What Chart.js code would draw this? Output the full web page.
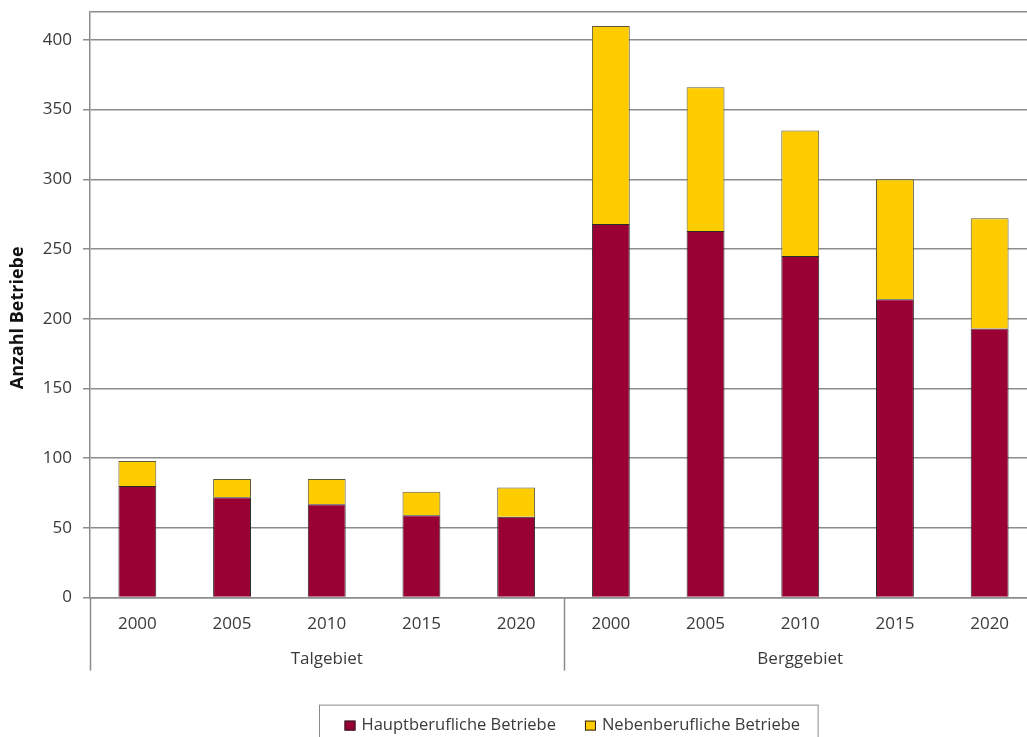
<!DOCTYPE html>
<html>
<head>
<meta charset="utf-8">
<title>Anzahl Betriebe</title>
<script src="https://cdn.jsdelivr.net/npm/chart.js@4.4.1/dist/chart.umd.min.js"></script>
<style>
  html, body { margin: 0; padding: 0; overflow: hidden; background: #fff; }
  #wrap { width: 1040px; height: 737px; position: relative; }
</style>
</head>
<body>
<div id="wrap"><canvas id="betriebe"></canvas></div>
<script>
// Betriebe nach Zone und Jahr
var regions = ['Talgebiet', 'Berggebiet'];
var years = ['2000', '2005', '2010', '2015', '2020'];
var hauptberuflich = [80, 72, 67, 59, 58, 268, 263, 245, 214, 193];
var nebenberuflich = [18, 13, 18, 17, 21, 142, 103, 90, 86, 79];
var yTicks = [0, 50, 100, 150, 200, 250, 300, 350, 400];
var yTitle = 'Anzahl Betriebe';

var FONT = '"Open Sans", "Noto Sans", sans-serif';
var GRID = '#8c8c8c';
var TEXT = '#3a3a3a';

var labels = [];
regions.forEach(function () {
  years.forEach(function (y) { labels.push(y); });
});

// axis title, group separators, region names and the boxed legend
var groupAxis = {
  id: 'groupAxis',
  afterDraw: function (chart) {
    var ctx = chart.ctx;
    var x = chart.scales.x;
    var area = chart.chartArea;
    var slot = x.width / labels.length;
    ctx.save();

    // y title, sitting a bit below the middle of the plot
    ctx.save();
    ctx.translate(18, (area.top + area.bottom) / 2 + 13);
    ctx.rotate(-Math.PI / 2);
    ctx.font = 'bold 18px ' + FONT;
    ctx.fillStyle = '#111';
    ctx.textAlign = 'center';
    ctx.textBaseline = 'middle';
    ctx.fillText(yTitle, 0, 0);
    ctx.restore();

    ctx.strokeStyle = GRID;
    ctx.lineWidth = 1.5;
    for (var g = 0; g <= regions.length; g++) {
      var px = Math.round(x.left + g * years.length * slot) + 0.5;
      ctx.beginPath();
      ctx.moveTo(px, area.bottom);
      ctx.lineTo(px, area.bottom + 73);
      ctx.stroke();
    }
    ctx.fillStyle = TEXT;
    ctx.font = '17px ' + FONT;
    ctx.textAlign = 'center';
    ctx.textBaseline = 'middle';
    regions.forEach(function (r, g) {
      var cx = x.left + (g * years.length + years.length / 2) * slot;
      ctx.fillText(r, cx, area.bottom + 62);
    });

    // legend
    ctx.font = '16.5px ' + FONT;
    var items = chart.data.datasets;
    var sq = 11, gapText = 6, gapItem = 29, padL = 25, padR = 18;
    var widths = items.map(function (d) { return ctx.measureText(d.label).width; });
    var inner = 0;
    widths.forEach(function (w, i) { inner += sq + gapText + w + (i ? gapItem : 0); });
    var boxW = padL + inner + padR;
    var boxL = Math.round((area.left + area.right) / 2 + 5 - boxW / 2) + 0.5;
    var boxT = area.bottom + 107.5;
    ctx.strokeStyle = '#8a8a8a';
    ctx.lineWidth = 1;
    ctx.strokeRect(boxL, boxT, boxW, 60);
    var cy = area.bottom + 128;
    var lx = boxL + padL;
    ctx.textAlign = 'left';
    items.forEach(function (d, i) {
      ctx.fillStyle = d.backgroundColor;
      ctx.fillRect(lx, cy - 5, sq, 10);
      ctx.strokeStyle = '#222';
      ctx.strokeRect(lx + 0.5, cy - 4.5, sq - 1, 9);
      ctx.fillStyle = TEXT;
      ctx.fillText(d.label, lx + sq + gapText, cy);
      lx += sq + gapText + widths[i] + gapItem;
    });
    ctx.restore();
  }
};

var betriebeChart = new Chart(document.getElementById('betriebe'), {
  type: 'bar',
  data: {
    labels: labels,
    datasets: [
      {
        label: 'Hauptberufliche Betriebe',
        data: hauptberuflich,
        backgroundColor: '#990033',
        borderColor: '#2a2a2a',
        borderWidth: 1
      },
      {
        label: 'Nebenberufliche Betriebe',
        data: nebenberuflich,
        backgroundColor: '#ffcc00',
        borderColor: '#5a5a3a',
        borderWidth: 1
      }
    ]
  },
  options: {
    responsive: true,
    maintainAspectRatio: false,
    animation: false,
    layout: { padding: { top: 12, right: 3, left: 0, bottom: 0 } },
    datasets: {
      bar: { categoryPercentage: 1, barPercentage: 0.4 }
    },
    plugins: {
      legend: { display: false },
      tooltip: { enabled: false }
    },
    scales: {
      x: {
        stacked: true,
        grid: { display: false },
        border: { display: true, color: GRID, width: 1.5 },
        ticks: {
          color: TEXT,
          font: { family: FONT, size: 17 },
          padding: 8,
          maxRotation: 0,
          autoSkip: false
        },
        afterFit: function (scale) { scale.height = 139.4; }
      },
      y: {
        stacked: true,
        min: 0,
        max: 420,
        afterBuildTicks: function (scale) {
          scale.ticks = yTicks.concat([scale.max]).map(function (v) { return { value: v }; });
        },
        afterFit: function (scale) {
          scale.width = 90;
          scale.paddingTop = 0;
          scale.paddingBottom = 0;
        },
        grid: {
          color: GRID,
          lineWidth: 1.5,
          tickLength: 7,
          tickColor: function (c) { return c.tick && c.tick.value === 420 ? 'rgba(0,0,0,0)' : GRID; }
        },
        border: { display: true, color: GRID, width: 1.5 },
        ticks: {
          color: TEXT,
          font: { family: FONT, size: 17 },
          padding: 11,
          callback: function (v) { return yTicks.indexOf(v) >= 0 ? v : ''; }
        }
      }
    }
  },
  plugins: [groupAxis]
});
</script>
</body>
</html>
